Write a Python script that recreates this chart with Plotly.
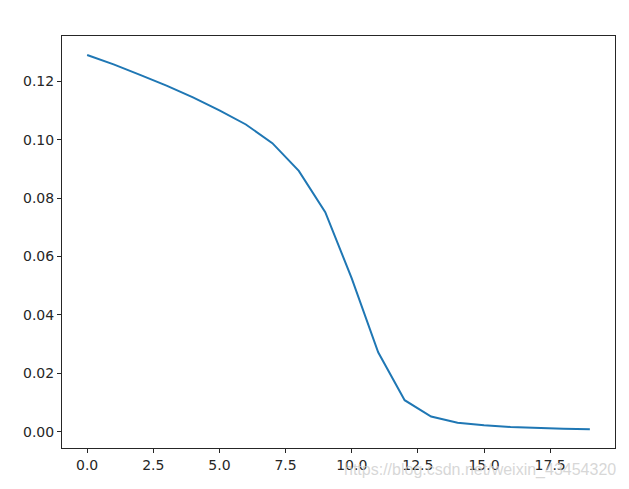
import plotly.graph_objects as go

x_vals = list(range(20))
y_vals = [0.1290, 0.1258, 0.1222, 0.1185, 0.1145, 0.1100, 0.1052, 0.0988, 0.0893,
          0.0752, 0.0525, 0.0272, 0.0108, 0.0052, 0.0031, 0.0022, 0.0016, 0.0012,
          0.0010, 0.0008]
x_ticks = [0, 2.5, 5, 7.5, 10, 12.5, 15, 17.5]
y_ticks = [0.00, 0.02, 0.04, 0.06, 0.08, 0.10, 0.12]

fig = go.Figure()
fig.add_trace(go.Scatter(x=x_vals, y=y_vals, mode="lines",
                         line=dict(color="#1f77b4", width=2), showlegend=False))

axis_common = dict(showline=True, linecolor="#262626", linewidth=1, mirror=True,
                   ticks="outside", ticklen=4, tickwidth=1, tickcolor="#262626",
                   showgrid=False, zeroline=False,
                   tickfont=dict(family="DejaVu Sans", size=14, color="#262626"))

fig.update_xaxes(range=[-0.95, 19.95], tickvals=x_ticks, tickformat=".1f", **axis_common)
fig.update_yaxes(range=[-0.00558, 0.1355], tickvals=y_ticks, tickformat=".2f", **axis_common)

fig.add_annotation(text="https://blog.csdn.net/weixin_43454320", xref="paper", yref="paper",
                   x=1.0054, y=-0.0534, xanchor="right", yanchor="middle", showarrow=False,
                   font=dict(family="Liberation Sans", size=16, color="rgba(205,205,205,0.8)"))

fig.update_layout(width=621, height=481, margin=dict(l=54, r=14, t=28, b=41),
                  plot_bgcolor="white", paper_bgcolor="white")

fig.write_html("out.html")
